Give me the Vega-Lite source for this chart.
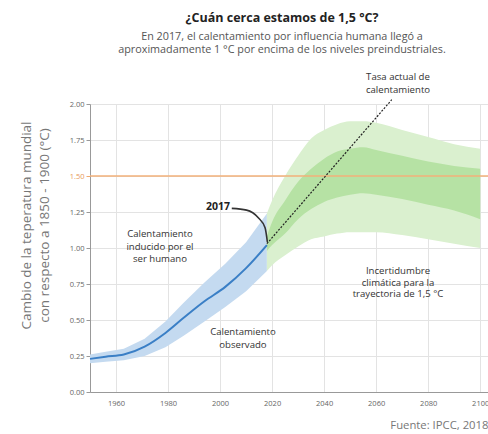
{
  "$schema": "https://vega.github.io/schema/vega-lite/v6.json",
  "width": 398,
  "height": 288,
  "autosize": {"type": "none"},
  "padding": {"left": 90, "top": 104, "right": 0, "bottom": 42},
  "background": "white",
  "config": {
    "font": "Open Sans",
    "view": {"stroke": null},
    "axis": {"gridColor": "#e3e3e3", "domainColor": "#999", "labelColor": "#666", "labelFontSize": 7.5}
  },
  "title": {
    "text": "¿Cuán cerca estamos de 1,5 °C?",
    "subtitle": ["En 2017, el calentamiento por influencia humana llegó a", "aproximadamente 1 °C por encima de los niveles preindustriales."],
    "anchor": "middle",
    "frame": "group",
    "dx": -7,
    "offset": 17,
    "fontSize": 12.5,
    "fontWeight": "bold",
    "color": "#222",
    "subtitleFontSize": 10.8,
    "subtitleColor": "#555",
    "subtitleLineHeight": 13.2,
    "subtitlePadding": 6
  },
  "datasets": {
    "obs": [
      {"year": 1950, "v": 0.23, "lo": 0.20, "hi": 0.26},
      {"year": 1956, "v": 0.245, "lo": 0.21, "hi": 0.28},
      {"year": 1963, "v": 0.26, "lo": 0.22, "hi": 0.30},
      {"year": 1971, "v": 0.315, "lo": 0.25, "hi": 0.37},
      {"year": 1979, "v": 0.41, "lo": 0.31, "hi": 0.49},
      {"year": 1986, "v": 0.515, "lo": 0.39, "hi": 0.62},
      {"year": 1994, "v": 0.63, "lo": 0.49, "hi": 0.76},
      {"year": 2002, "v": 0.73, "lo": 0.59, "hi": 0.89},
      {"year": 2010, "v": 0.86, "lo": 0.70, "hi": 1.04},
      {"year": 2018, "v": 1.02, "lo": 0.84, "hi": 1.24}
    ],
    "proj": [
      {"year": 2018, "olo": 0.84, "ilo": 0.98, "ihi": 1.08, "ohi": 1.24},
      {"year": 2020, "olo": 0.88, "ilo": 1.02, "ihi": 1.18, "ohi": 1.33},
      {"year": 2025, "olo": 0.95, "ilo": 1.10, "ihi": 1.33, "ohi": 1.50},
      {"year": 2030, "olo": 1.01, "ilo": 1.20, "ihi": 1.46, "ohi": 1.64},
      {"year": 2035, "olo": 1.06, "ilo": 1.27, "ihi": 1.55, "ohi": 1.76},
      {"year": 2040, "olo": 1.08, "ilo": 1.32, "ihi": 1.62, "ohi": 1.82},
      {"year": 2045, "olo": 1.10, "ilo": 1.35, "ihi": 1.67, "ohi": 1.86},
      {"year": 2050, "olo": 1.11, "ilo": 1.37, "ihi": 1.69, "ohi": 1.88},
      {"year": 2055, "olo": 1.11, "ilo": 1.38, "ihi": 1.70, "ohi": 1.88},
      {"year": 2060, "olo": 1.11, "ilo": 1.37, "ihi": 1.68, "ohi": 1.87},
      {"year": 2070, "olo": 1.09, "ilo": 1.34, "ihi": 1.64, "ohi": 1.82},
      {"year": 2080, "olo": 1.06, "ilo": 1.30, "ihi": 1.60, "ohi": 1.77},
      {"year": 2090, "olo": 1.03, "ilo": 1.26, "ihi": 1.57, "ohi": 1.72},
      {"year": 2100, "olo": 1.00, "ilo": 1.20, "ihi": 1.55, "ohi": 1.69}
    ],
    "rate": [
      {"year": 2018, "v": 1.03},
      {"year": 2066, "v": 2.03}
    ],
    "arrow": [
      {"year": 2004.5, "v": 1.275},
      {"year": 2010.2, "v": 1.263},
      {"year": 2014.7, "v": 1.21},
      {"year": 2017.3, "v": 1.141},
      {"year": 2018.2, "v": 1.04}
    ],
    "labels": [
      {"year": 1976.9, "v": 1.094, "t": "Calentamiento"},
      {"year": 1976.9, "v": 1.01, "t": "inducido por el"},
      {"year": 1976.9, "v": 0.927, "t": "ser humano"},
      {"year": 2008.8, "v": 0.418, "t": "Calentamiento"},
      {"year": 2008.8, "v": 0.328, "t": "observado"},
      {"year": 2068.4, "v": 2.19, "t": "Tasa actual de"},
      {"year": 2068.4, "v": 2.10, "t": "calentamiento"},
      {"year": 2068.4, "v": 0.842, "t": "Incertidumbre"},
      {"year": 2068.4, "v": 0.760, "t": "climática para la"},
      {"year": 2068.4, "v": 0.678, "t": "trayectoria de 1,5 °C"}
    ],
    "yr": [
      {"year": 2003.8, "v": 1.282, "t": "2017"}
    ]
  },
  "encoding": {
    "x": {
      "field": "year", "type": "quantitative",
      "scale": {"domain": [1950, 2103], "nice": false, "zero": false},
      "axis": {
        "values": [1960, 1980, 2000, 2020, 2040, 2060, 2080, 2100],
        "format": "d",
        "ticks": false,
        "labelPadding": 7,
        "labelFlush": false,
        "title": "Fuente: IPCC, 2018",
        "titleFontSize": 11.3,
        "titleFontWeight": "normal",
        "titleColor": "#777",
        "titleAlign": "right",
        "titleAnchor": "end",
        "titleX": 398,
        "titleY": 36,
        "titleBaseline": "alphabetic"
      }
    },
    "y": {
      "field": "v", "type": "quantitative",
      "scale": {"domain": [0, 2], "nice": false},
      "axis": {
        "values": [0, 0.25, 0.5, 0.75, 1, 1.25, 1.5, 1.75, 2],
        "format": ".2f",
        "tickSize": 4,
        "tickColor": {"condition": {"test": "datum.value === 1.5", "value": "#f0a96e"}, "value": "#999"},
        "labelColor": {"condition": {"test": "datum.value === 1.5", "value": "#e89a5a"}, "value": "#666"},
        "labelPadding": 2,
        "title": ["Cambio de la teperatura mundial", "con respecto a 1850 - 1900 (°C)"],
        "titleFontSize": 13.5,
        "titleFontWeight": "normal",
        "titleColor": "#777",
        "titleAngle": -90,
        "titleAlign": "center",
        "titleBaseline": "alphabetic",
        "titleLineHeight": 18,
        "titleX": -60,
        "titleY": 121
      }
    }
  },
  "layer": [
    {
      "data": {"name": "obs"},
      "mark": {"type": "area", "color": "#c4daf0"},
      "encoding": {"y": {"field": "lo", "type": "quantitative"}, "y2": {"field": "hi"}}
    },
    {
      "data": {"name": "proj"},
      "mark": {"type": "area", "color": "#daf0cf", "interpolate": "monotone"},
      "encoding": {"y": {"field": "olo", "type": "quantitative"}, "y2": {"field": "ohi"}}
    },
    {
      "data": {"name": "proj"},
      "mark": {"type": "area", "color": "#b6e2a4", "interpolate": "monotone"},
      "encoding": {"y": {"field": "ilo", "type": "quantitative"}, "y2": {"field": "ihi"}}
    },
    {
      "data": {"name": "obs"},
      "mark": {"type": "line", "color": "#3a7fc6", "strokeWidth": 2, "interpolate": "monotone"},
      "encoding": {}
    },
    {
      "data": {"values": [{"v": 1.5}]},
      "mark": {"type": "rule", "color": "#f2b07a", "strokeWidth": 1.5},
      "encoding": {"x": {"value": 0}, "x2": {"value": 398}}
    },
    {
      "data": {"name": "rate"},
      "mark": {"type": "line", "color": "#222", "strokeWidth": 1.2, "strokeDash": [2, 1.5]},
      "encoding": {}
    },
    {
      "data": {"name": "arrow"},
      "mark": {"type": "line", "color": "#333", "strokeWidth": 1.6, "interpolate": "monotone"},
      "encoding": {}
    },
    {
      "data": {"name": "labels"},
      "mark": {"type": "text", "fontSize": 9.6, "color": "#333", "baseline": "middle", "align": "center"},
      "encoding": {"text": {"field": "t"}}
    },
    {
      "data": {"name": "yr"},
      "mark": {"type": "text", "fontSize": 10.5, "fontWeight": "bold", "color": "#222", "baseline": "middle", "align": "right"},
      "encoding": {"text": {"field": "t"}}
    }
  ]
}
